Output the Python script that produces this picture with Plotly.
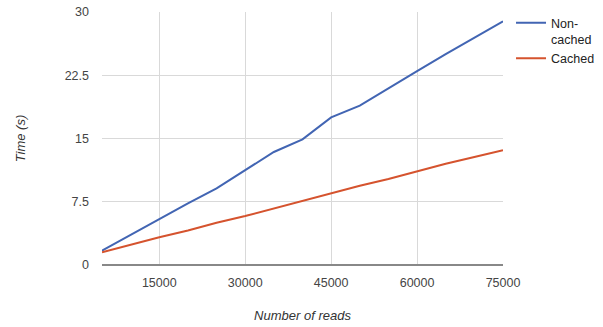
import plotly.graph_objects as go

reads = [5000, 10000, 15000, 20000, 25000, 30000, 35000, 40000, 45000, 50000, 55000, 60000, 65000, 70000, 75000]
non_cached = [1.7, 3.6, 5.5, 7.3, 9.1, 11.3, 13.4, 14.9, 17.5, 18.9, 21.0, 23.0, 25.0, 27.0, 28.9]
cached = [1.5, 2.4, 3.3, 4.1, 5.0, 5.8, 6.7, 7.6, 8.5, 9.4, 10.2, 11.1, 12.0, 12.8, 13.6]
x_ticks = [15000, 30000, 45000, 60000, 75000]
x_tick_text = ["15000", "30000", "45000", "60000", "75000"]
y_ticks = [0, 7.5, 15, 22.5, 30]
y_tick_text = ["0", "7.5", "15", "22.5", "30"]

font_family = "Liberation Sans, Arial, sans-serif"

fig = go.Figure()
fig.add_trace(go.Scatter(x=reads, y=non_cached, mode="lines", name="Non-<br>cached",
                         line=dict(color="#4265b3", width=2)))
fig.add_trace(go.Scatter(x=reads, y=cached, mode="lines", name="Cached",
                         line=dict(color="#d5532e", width=2)))

fig.update_layout(
    width=603, height=327,
    margin=dict(l=102, r=100, t=12, b=62, autoexpand=False),
    paper_bgcolor="white", plot_bgcolor="white",
    font=dict(family=font_family, size=12.5, color="#444"),
    showlegend=True,
    legend=dict(x=1.02, y=1.015, xanchor="left", yanchor="top", valign="top",
                font=dict(size=12.5, color="#222"),
                bgcolor="rgba(0,0,0,0)"),
    xaxis=dict(range=[5000, 75000], tickvals=x_ticks, ticktext=x_tick_text,
               showgrid=True, automargin=False,
               gridcolor="#d9d9d9", zeroline=False, showline=False,
               ticklabelstandoff=8,
               title=dict(text="<i>Number of reads</i>", standoff=22,
                          font=dict(size=13, color="#333"))),
    yaxis=dict(range=[0, 30], tickvals=y_ticks, ticktext=y_tick_text,
               showgrid=True, gridcolor="#d9d9d9", zeroline=True, automargin=False,
               zerolinecolor="#888", zerolinewidth=2, showline=False,
               ticklabelstandoff=12,
               title=dict(text="<i>Time (s)</i>", standoff=36,
                          font=dict(size=13, color="#333"))),
)

fig.write_html("out.html", post_script="document.body.style.margin='0';",
               config={"displayModeBar": False})
